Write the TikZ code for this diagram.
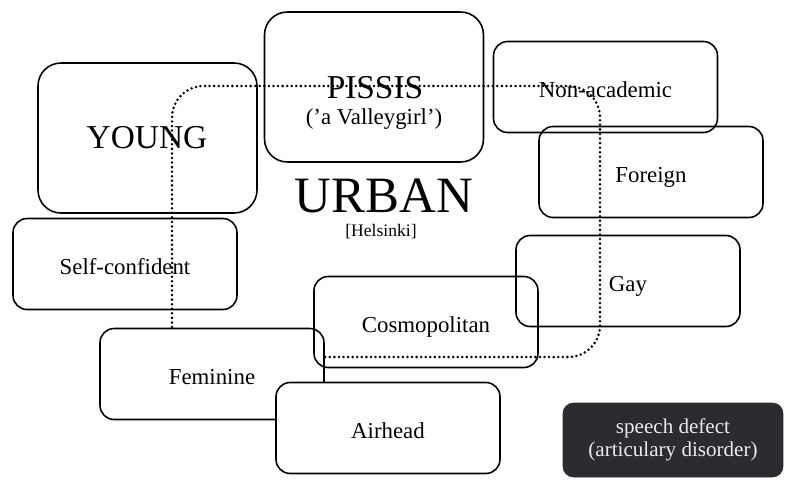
\documentclass[tikz,border=0pt]{standalone}
\usepackage{fontspec}
\setmainfont{Liberation Serif}
\definecolor{darkbox}{RGB}{44,44,48}
\tikzset{
	cat/.style={draw, rounded corners=8pt, line width=0.9pt, minimum width=4.48cm, minimum height=1.82cm,
		text height=1.45em, text depth=.25em, font=\fontsize{13}{15}\selectfont},
	bigcat/.style={draw, rounded corners=13pt, line width=0.9pt, minimum width=4.38cm, minimum height=3cm},
	zone/.style={line width=1.6pt, dash pattern=on 0pt off 2.6pt, line cap=round, rounded corners=18pt},
}
\begin{document}
\begin{tikzpicture}[x=0.02cm, y=-0.02cm, line join=round]
	\useasboundingbox (0,0) rectangle (785,481);
	% big boxes
	\node[bigcat] (young) at (147.5,138) {};
	\node[bigcat] (pissis) at (374,87) {};
	\node[anchor=base, font=\fontsize{19}{21}\selectfont] (youngT) at (147,148) {YOUNG};
	\node[anchor=base, font=\fontsize{19}{21}\selectfont] (pissisT) at (375,98) {PISSIS};
	\node[anchor=base, font=\fontsize{13}{15}\selectfont] (valley) at (374,124) {('a Valleygirl')};
	\node[anchor=base, font=\fontsize{29}{31}\selectfont] (urban) at (384,212) {URBAN};
	\node[anchor=base, font=\fontsize{10}{12}\selectfont] (helsinki) at (381,236) {[Helsinki]};
	% categories
	\node[cat] (nonacad) at (605.5,87) {Non-academic};
	\node[cat] (foreign) at (651,172) {Foreign};
	\node[cat] (selfconf) at (125,264) {Self-confident};
	\node[cat] (gay) at (628,281) {Gay};
	\node[cat] (cosmo) at (426,322) {Cosmopolitan};
	\node[cat] (feminine) at (212,374) {Feminine};
	\node[cat, fill=white] (airhead) at (388,428) {Airhead};
	\node[draw=darkbox, fill=darkbox, rounded corners=6pt, minimum width=4.4cm, minimum height=1.48cm,
		text=white!92!black, align=center, font=\fontsize{12}{13}\selectfont] (speech) at (673,440)
		{speech defect\\(articulary disorder)};
	% dotted zone
	\coordinate (zoneS) at (172,327);
	\coordinate (zoneE) at (323,357);
	\draw[zone] (zoneS) |- (600,86) |- (zoneE);
\end{tikzpicture}
\end{document}
